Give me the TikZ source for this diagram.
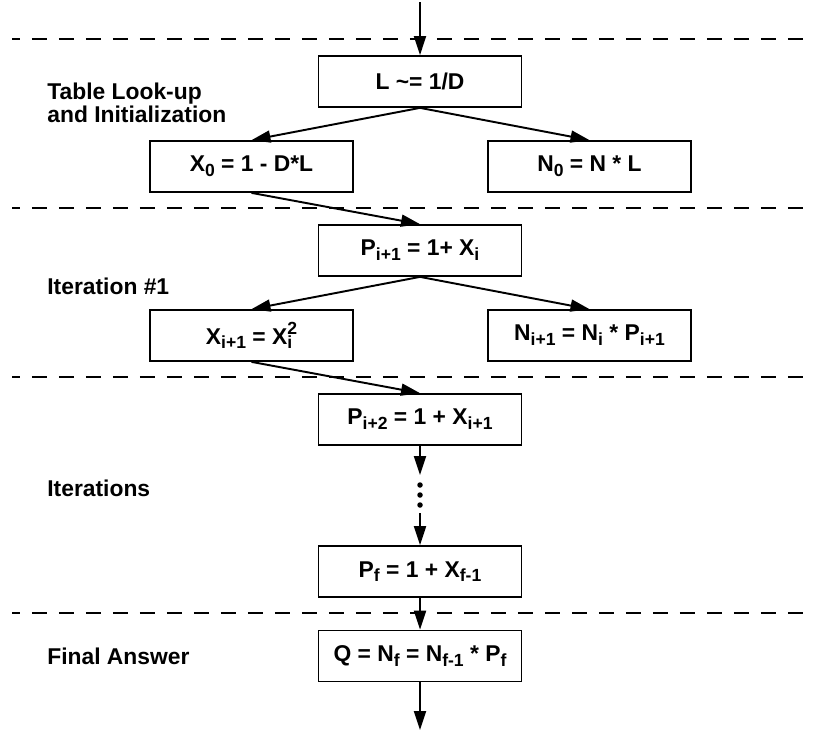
\documentclass[tikz,border=0pt]{standalone}
\usepackage{fontspec}
\setmainfont{Liberation Sans}
\usetikzlibrary{arrows.meta}
\newcommand\dn[1]{\raisebox{-2.7pt}{\fontsize{10}{10}\selectfont #1}}
\newcommand\up[1]{\raisebox{5.6pt}{\fontsize{10}{10}\selectfont #1}}
\begin{document}
\begin{tikzpicture}[x=0.02cm,y=-0.02cm,
  txt/.style={font=\fontsize{13}{12.6}\selectfont\bfseries},
  stage/.style={txt,draw,line width=1pt,minimum width=4.06cm,minimum height=1.02cm,inner sep=0pt},
  lbl/.style={txt,inner sep=0pt},
  arr/.style={line width=1.1pt,-{Triangle[length=0.38cm,width=0.24cm]}},
  sep/.style={line width=1.1pt,dash pattern=on 0.30cm off 0.24cm,dash phase=0.14cm},
  dotn/.style={circle,fill,inner sep=0pt,minimum size=0.11cm}]
\useasboundingbox (0,0) rectangle (817,731);
% separators
\draw[sep] (12,39) -- (812,39);
\draw[sep] (12,208) -- (812,208);
\draw[sep] (12,377) -- (812,377);
\draw[sep] (12,613) -- (812,613);
% labels
\node[lbl,align=left,anchor=north west] (tl) at (47,83) {Table Look-up\\and Initialization};
\node[lbl,anchor=base west] (it1) at (47,294) {Iteration \#1};
\node[lbl,anchor=base west] (its) at (47,496) {Iterations};
\node[lbl,anchor=base west] (fa) at (47,664) {Final Answer};
% boxes
\node[stage] (L) at (420,81.5) {L \textasciitilde= 1/D};
\node[stage] (X0) at (251.5,166.5) {X\dn{0} = 1 - D*L};
\node[stage] (N0) at (589.5,166.5) {N\dn{0} = N * L};
\node[stage] (P1) at (420,250.5) {P\dn{i+1} = 1+ X\dn{i}};
\node[stage] (X1) at (251.5,335.5) {X\dn{i+1} = X\rlap{\dn{i}}\up{2}};
\node[stage] (N1) at (589.5,335.5) {N\dn{i+1} = N\dn{i} * P\dn{i+1}};
\node[stage] (P2) at (420,419.5) {P\dn{i+2} = 1 + X\dn{i+1}};
\node[stage] (Pf) at (420,571.5) {P\dn{f} = 1 + X\dn{f-1}};
\node[stage] (Q) at (420,656) {Q = N\dn{f} = N\dn{f-1} * P\dn{f}};
% free ends and dots
\coordinate (in) at (420,2);
\coordinate (out) at (420,730);
\coordinate (d1) at (420,475);
\coordinate (d2) at (420,513);
\node[dotn] (o1) at (420,485) {};
\node[dotn] (o2) at (420,495) {};
\node[dotn] (o3) at (420,505) {};
% connectors
\draw[arr] (in) -- (L);
\draw[arr] (L.south) -- (X0.north);
\draw[arr] (L.south) -- (N0.north);
\draw[arr] (X0.south) -- (P1.north);
\draw[arr] (P1.south) -- (X1.north);
\draw[arr] (P1.south) -- (N1.north);
\draw[arr] (X1.south) -- (P2.north);
\draw[arr] (P2) -- (d1);
\draw[arr] (d2) -- (Pf);
\draw[arr] (Pf) -- (Q);
\draw[arr] (Q) -- (out);
\end{tikzpicture}
\end{document}
